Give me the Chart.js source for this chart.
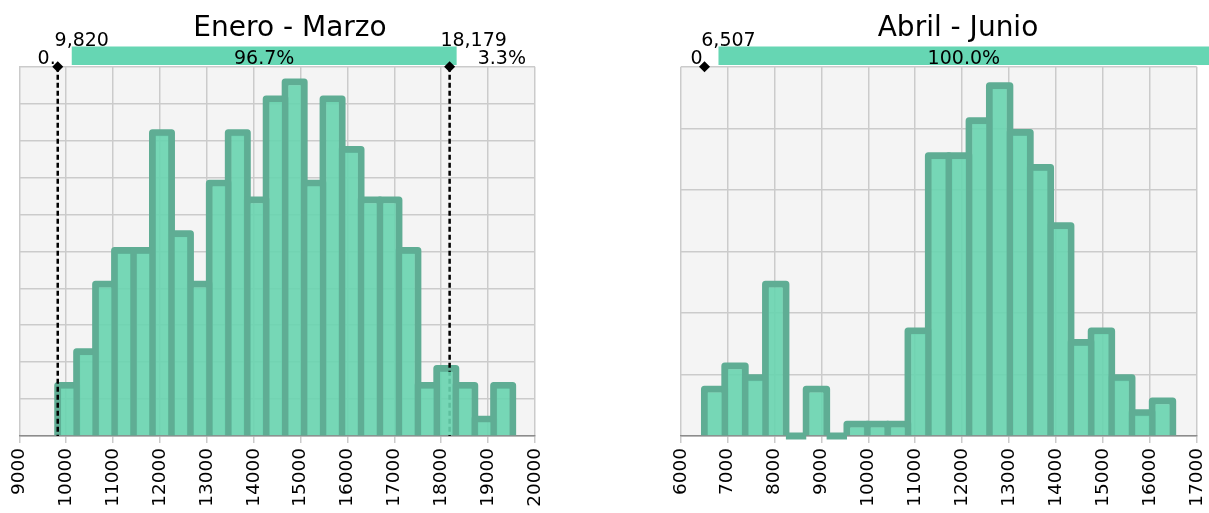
<!DOCTYPE html>
<html>
<head>
<meta charset="utf-8">
<script src="https://cdn.jsdelivr.net/npm/chart.js@4.4.1/dist/chart.umd.min.js"></script>
<style>
  html, body { margin: 0; padding: 0; background: #fff; }
  body { position: relative; width: 1209px; height: 513px; overflow: hidden; }
  canvas { position: absolute; top: 0; }
  #q1 { left: 0; }
  #q2 { left: 620px; }
</style>
</head>
<body>
<canvas id="q1" width="580" height="513"></canvas>
<canvas id="q2" width="610" height="513"></canvas>
<script>
// simulated results per bin
const q1Counts = [3, 5, 9, 11, 11, 18, 12, 9, 15, 18, 14, 20, 21, 15, 20, 17, 14, 14, 11, 3, 4, 3, 1, 3];
const q2Counts = [4, 6, 5, 13, 0, 4, 0, 1, 1, 1, 9, 24, 24, 27, 30, 26, 23, 18, 8, 9, 5, 2, 3];

// min / max of the results (edges of the first and last bin)
const q1Range = [9820, 19523];
const q2Range = [6507, 16488];

// x axis limits
const q1Axis = [9000, 20000];
const q2Axis = [6000, 17000];

// delimiters and the share of results left / between / right of them
const q1Marks = [9820, 18179];
const q1Shares = ["0.", "96.7%", "3.3%"];
const q2Marks = [6507];
const q2Shares = ["0", "100.0%"];

const FONT = "DejaVu Sans";
const FILL = "rgba(104, 212, 175, 0.9)";
const OUTLINE = "#5fad94";
const BAND = "#66d6b3";

const binCenters = (range, n) => {
  const w = (range[1] - range[0]) / n;
  return Array.from({ length: n }, (_, i) => range[0] + w * (i + 0.5));
};

const overlay = {
  id: "overlay",
  beforeDraw(chart) {
    const { ctx, chartArea: a } = chart;
    ctx.save();
    ctx.fillStyle = "#f4f4f4";
    ctx.fillRect(a.left, a.top, a.right - a.left, a.bottom - a.top);
    ctx.restore();
  },
  beforeDatasetsDraw(chart, args, o) {
    const { ctx, chartArea: a } = chart;
    const xs = chart.scales.x;
    ctx.save();
    // outlines centred on the bar edges, fills are drawn inset afterwards
    ctx.strokeStyle = OUTLINE;
    ctx.lineWidth = 7;
    ctx.lineJoin = "round";
    chart.getDatasetMeta(0).data.forEach((bar) => {
      const { x, y, base, width } = bar.getProps(["x", "y", "base", "width"], true);
      ctx.beginPath();
      ctx.moveTo(x - width / 2, base);
      ctx.lineTo(x - width / 2, y);
      ctx.lineTo(x + width / 2, y);
      ctx.lineTo(x + width / 2, base);
      ctx.stroke();
    });
    // delimiter lines
    if (o.lines) {
      ctx.strokeStyle = "#000";
      ctx.lineWidth = 2.5;
      ctx.setLineDash([5, 3]);
      o.marks.forEach((m) => {
        const px = xs.getPixelForValue(m);
        ctx.beginPath();
        ctx.moveTo(px, a.top);
        ctx.lineTo(px, a.bottom);
        ctx.stroke();
      });
    }
    ctx.restore();
  },
  afterDraw(chart, args, o) {
    const { ctx, chartArea: a } = chart;
    const xs = chart.scales.x;
    const px = o.marks.map((m) => xs.getPixelForValue(m));
    ctx.save();
    ctx.fillStyle = "#000";
    ctx.textAlign = "center";
    ctx.font = `28px "${FONT}"`;
    ctx.fillText(o.title, o.titleX, 36);

    // band for the middle share
    const bandL = px[0] + 14;
    const bandR = px.length > 1 ? px[1] + 7 : a.right + 12.5;
    ctx.fillStyle = BAND;
    ctx.fillRect(bandL, 46.5, bandR - bandL, 18.5);

    ctx.fillStyle = "#000";
    ctx.font = `19px "${FONT}"`;
    o.marks.forEach((m, i) => {
      ctx.textAlign = "center";
      ctx.fillText(m.toLocaleString("en-US"), px[i] + 24, 46);
    });
    ctx.textAlign = "right";
    ctx.fillText(o.shares[0], px[0] - 2, 64);
    ctx.textAlign = "center";
    ctx.fillText(o.shares[1], (bandL + bandR) / 2, 64);
    if (o.shares[2]) {
      ctx.textAlign = "right";
      ctx.fillText(o.shares[2], a.right - 9, 64);
    }

    // diamonds on the top edge
    px.forEach((x) => {
      ctx.beginPath();
      ctx.moveTo(x, a.top - 5.5);
      ctx.lineTo(x + 5.5, a.top);
      ctx.lineTo(x, a.top + 5.5);
      ctx.lineTo(x - 5.5, a.top);
      ctx.closePath();
      ctx.fill();
    });
    ctx.restore();
  }
};

const histogram = (id, cfg) => {
  const n = cfg.counts.length;
  const binWidth = (cfg.range[1] - cfg.range[0]) / n;
  const total = cfg.counts.reduce((s, c) => s + c, 0);
  // one grid row = a fixed probability density, expressed in counts
  const row = cfg.density * total * binWidth;
  const centers = binCenters(cfg.range, n);

  return new Chart(document.getElementById(id), {
    type: "bar",
    data: {
      datasets: [
        {
          data: cfg.counts.map((c, i) => ({ x: centers[i], y: c })),
          backgroundColor: FILL,
          borderColor: "rgba(0,0,0,0)",
          borderWidth: 3.5,
          barPercentage: 1,
          categoryPercentage: 1
        }
      ]
    },
    options: {
      responsive: false,
      animation: false,
      layout: { padding: cfg.padding },
      plugins: {
        legend: { display: false },
        tooltip: { enabled: false },
        overlay: {
          title: cfg.title,
          titleX: cfg.titleX,
          marks: cfg.marks,
          shares: cfg.shares,
          lines: cfg.lines
        }
      },
      scales: {
        x: {
          type: "linear",
          min: cfg.axis[0],
          max: cfg.axis[1],
          offset: false,
          grid: { offset: false, color: "#cbcbcb", lineWidth: 1.5, tickLength: 7 },
          border: { color: "#8c8c8c", width: 1.5 },
          ticks: {
            stepSize: 1000,
            autoSkip: false,
            minRotation: 90,
            maxRotation: 90,
            padding: 5,
            color: "#000",
            font: { family: FONT, size: 18.5 },
            callback: (v) => String(v)
          },
          afterFit: (s) => {
            s.height = 77;
          }
        },
        y: {
          min: 0,
          max: row * cfg.rows,
          afterBuildTicks: (s) => {
            s.ticks = Array.from({ length: cfg.rows + 1 }, (_, i) => ({ value: i * row }));
          },
          grid: { color: "#cbcbcb", lineWidth: 1.5, drawTicks: false },
          border: { display: false },
          ticks: { display: false }
        }
      }
    },
    plugins: [overlay]
  });
};

histogram("q1", {
  title: "Enero - Marzo",
  titleX: 290,
  counts: q1Counts,
  range: q1Range,
  axis: q1Axis,
  density: 2e-5,
  rows: 10,
  marks: q1Marks,
  shares: q1Shares,
  lines: true,
  padding: { left: 19.3, right: 45, top: 66.7, bottom: 0 }
});

histogram("q2", {
  title: "Abril - Junio",
  titleX: 338,
  counts: q2Counts,
  range: q2Range,
  axis: q2Axis,
  density: 5e-5,
  rows: 6,
  marks: q2Marks,
  shares: q2Shares,
  lines: false,
  padding: { left: 60.7, right: 33.3, top: 66.7, bottom: 0 }
});
</script>
</body>
</html>
